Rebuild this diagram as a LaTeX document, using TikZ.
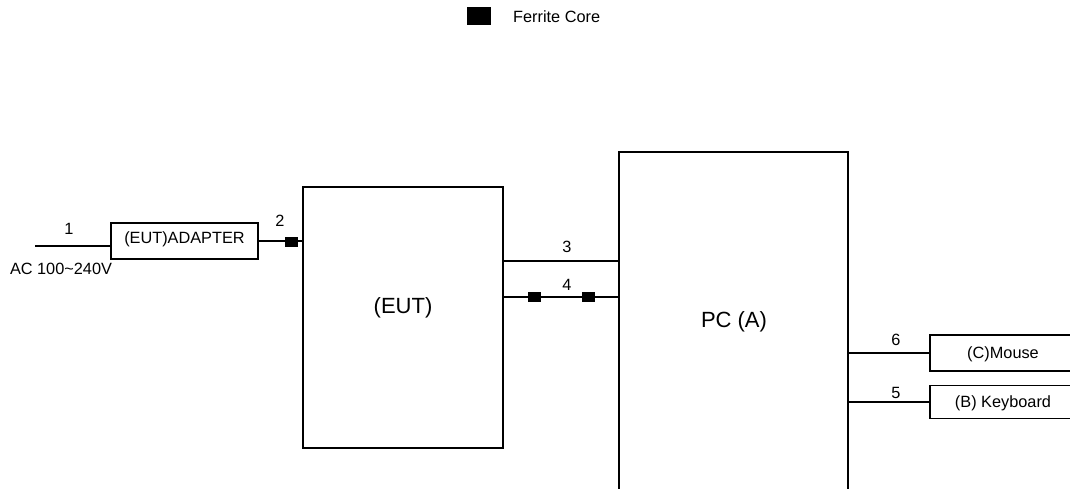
\documentclass[tikz,border=0pt]{standalone}
\usepackage{fontspec}
\setmainfont{Liberation Sans}
\begin{document}
\begin{tikzpicture}[x=1pt,y=-1pt,
  box/.style={draw,line width=1.5pt,inner sep=0pt,anchor=center},
  wire/.style={line width=1.5pt},
  core/.style={fill=black,draw=none,inner sep=0pt,minimum width=13pt,minimum height=10pt},
  lbl/.style={inner sep=0pt,font=\fontsize{16.3}{16.3}\selectfont},
  big/.style={inner sep=0pt,font=\fontsize{22}{22}\selectfont}]
\useasboundingbox (0,0) rectangle (1070,488);
\clip (0,0) rectangle (1070,488);
% legend
\node[core,minimum width=24pt,minimum height=18pt] (legcore) at (479,16) {};
\node[lbl,anchor=west] (legtxt) at (513,17) {Ferrite Core};
% boxes
\node[box,minimum width=147pt,minimum height=36pt] (adapter) at (184.5,241) {};
\node[lbl] (adaptertxt) at (184.5,239.5) {(EUT)ADAPTER};
\node[box,minimum width=200pt,minimum height=261pt] (eut) at (403,317.5) {};
\node[big] (euttxt) at (403,308) {(EUT)};
\node[box,minimum width=229pt,minimum height=342pt] (pc) at (733.5,323) {};
\node[big] (pctxt) at (734,322) {PC (A)};
\node[box,minimum width=146pt,minimum height=36pt] (mouse) at (1003,353) {};
\node[lbl] (mousetxt) at (1003,354) {(C)Mouse};
\node[box,minimum width=146pt,minimum height=33pt] (kbd) at (1003,402) {};
\node[lbl] (kbdtxt) at (1003,403) {(B) Keyboard};
% wire 1
\coordinate (ac) at (35,246);
\draw[wire] (ac) -- (ac -| adapter.west);
\node[lbl] (l1) at (69,229) {1};
\node[lbl] (acl) at (61,269) {AC 100\textasciitilde240V};
% wire 2
\draw[wire] (adapter.east) -- (adapter.east -| eut.west);
\node[core] (c2) at (291.5,241.5) {};
\node[lbl] (l2) at (280,221) {2};
% wire 3
\coordinate (w3) at (503,261);
\draw[wire] (w3) -- (w3 -| pc.west);
\node[lbl] (l3) at (567,247) {3};
% wire 4
\coordinate (w4) at (503,297);
\draw[wire] (w4) -- (w4 -| pc.west);
\node[core] (c4a) at (534.5,297) {};
\node[core] (c4b) at (588.5,297) {};
\node[lbl] (l4) at (567,285) {4};
% wire 6
\draw[wire] (mouse.west -| pc.east) -- (mouse.west);
\node[lbl] (l6) at (896,340) {6};
% wire 5
\draw[wire] (kbd.west -| pc.east) -- (kbd.west);
\node[lbl] (l5) at (896,393) {5};
\end{tikzpicture}
\end{document}
